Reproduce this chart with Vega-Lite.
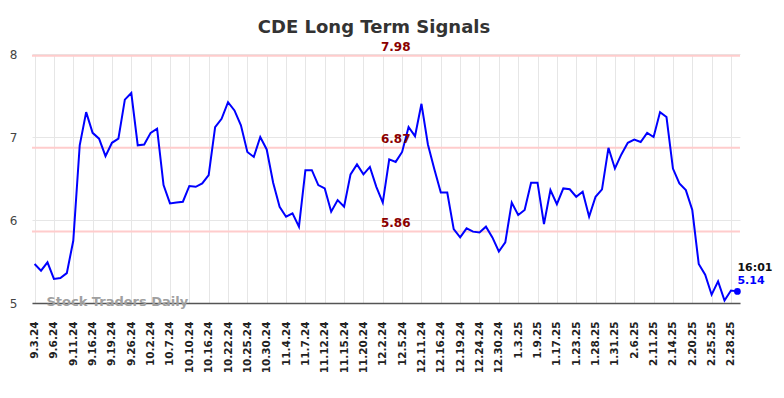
{
  "$schema": "https://vega.github.io/schema/vega-lite/v6.json",
  "width": 708,
  "height": 249,
  "autosize": "none",
  "padding": {"left": 32, "top": 54, "right": 44, "bottom": 95},
  "background": "white",
  "title": {"text": "CDE Long Term Signals", "font": "DejaVu Sans", "fontSize": 18, "fontWeight": "bold", "color": "#333333", "anchor": "middle", "dx": -12, "offset": 4},
  "config": {"view": {"stroke": null}, "font": "DejaVu Sans"},
  "data": {"values": [
    {"d": "9.3.24", "v": 5.47}, {"d": "9.4.24", "v": 5.39}, {"d": "9.5.24", "v": 5.49},
    {"d": "9.6.24", "v": 5.29}, {"d": "9.9.24", "v": 5.30}, {"d": "9.10.24", "v": 5.36},
    {"d": "9.11.24", "v": 5.75}, {"d": "9.12.24", "v": 6.90}, {"d": "9.13.24", "v": 7.30},
    {"d": "9.16.24", "v": 7.05}, {"d": "9.17.24", "v": 6.98}, {"d": "9.18.24", "v": 6.77},
    {"d": "9.19.24", "v": 6.93}, {"d": "9.20.24", "v": 6.98}, {"d": "9.24.24", "v": 7.45},
    {"d": "9.26.24", "v": 7.53}, {"d": "9.27.24", "v": 6.90}, {"d": "9.30.24", "v": 6.91},
    {"d": "10.2.24", "v": 7.05}, {"d": "10.3.24", "v": 7.10}, {"d": "10.4.24", "v": 6.42},
    {"d": "10.7.24", "v": 6.20}, {"d": "10.8.24", "v": 6.21}, {"d": "10.9.24", "v": 6.22},
    {"d": "10.10.24", "v": 6.41}, {"d": "10.11.24", "v": 6.40}, {"d": "10.14.24", "v": 6.44},
    {"d": "10.16.24", "v": 6.54}, {"d": "10.17.24", "v": 7.12}, {"d": "10.18.24", "v": 7.22},
    {"d": "10.22.24", "v": 7.42}, {"d": "10.23.24", "v": 7.32}, {"d": "10.24.24", "v": 7.14},
    {"d": "10.25.24", "v": 6.82}, {"d": "10.28.24", "v": 6.76}, {"d": "10.29.24", "v": 7.00},
    {"d": "10.30.24", "v": 6.85}, {"d": "10.31.24", "v": 6.45}, {"d": "11.1.24", "v": 6.16},
    {"d": "11.4.24", "v": 6.04}, {"d": "11.5.24", "v": 6.08}, {"d": "11.6.24", "v": 5.92},
    {"d": "11.7.24", "v": 6.60}, {"d": "11.8.24", "v": 6.60}, {"d": "11.11.24", "v": 6.42},
    {"d": "11.12.24", "v": 6.38}, {"d": "11.13.24", "v": 6.10}, {"d": "11.14.24", "v": 6.24},
    {"d": "11.15.24", "v": 6.16}, {"d": "11.18.24", "v": 6.55}, {"d": "11.19.24", "v": 6.67},
    {"d": "11.20.24", "v": 6.55}, {"d": "11.22.24", "v": 6.64}, {"d": "11.26.24", "v": 6.40},
    {"d": "12.2.24", "v": 6.21}, {"d": "12.3.24", "v": 6.73}, {"d": "12.4.24", "v": 6.70},
    {"d": "12.5.24", "v": 6.82}, {"d": "12.6.24", "v": 7.12}, {"d": "12.10.24", "v": 7.01},
    {"d": "12.11.24", "v": 7.40}, {"d": "12.12.24", "v": 6.91}, {"d": "12.13.24", "v": 6.61},
    {"d": "12.16.24", "v": 6.33}, {"d": "12.17.24", "v": 6.33}, {"d": "12.18.24", "v": 5.89},
    {"d": "12.19.24", "v": 5.79}, {"d": "12.20.24", "v": 5.90}, {"d": "12.23.24", "v": 5.86},
    {"d": "12.24.24", "v": 5.85}, {"d": "12.26.24", "v": 5.92}, {"d": "12.27.24", "v": 5.79},
    {"d": "12.30.24", "v": 5.62}, {"d": "12.31.24", "v": 5.73}, {"d": "1.2.25", "v": 6.21},
    {"d": "1.3.25", "v": 6.06}, {"d": "1.6.25", "v": 6.12}, {"d": "1.7.25", "v": 6.45},
    {"d": "1.9.25", "v": 6.45}, {"d": "1.10.25", "v": 5.95}, {"d": "1.14.25", "v": 6.36},
    {"d": "1.17.25", "v": 6.19}, {"d": "1.21.25", "v": 6.38}, {"d": "1.22.25", "v": 6.37},
    {"d": "1.23.25", "v": 6.28}, {"d": "1.24.25", "v": 6.34}, {"d": "1.27.25", "v": 6.04},
    {"d": "1.28.25", "v": 6.28}, {"d": "1.29.25", "v": 6.37}, {"d": "1.30.25", "v": 6.87},
    {"d": "1.31.25", "v": 6.62}, {"d": "2.3.25", "v": 6.79}, {"d": "2.4.25", "v": 6.93},
    {"d": "2.6.25", "v": 6.97}, {"d": "2.7.25", "v": 6.94}, {"d": "2.10.25", "v": 7.05},
    {"d": "2.11.25", "v": 7.00}, {"d": "2.12.25", "v": 7.30}, {"d": "2.13.25", "v": 7.24},
    {"d": "2.14.25", "v": 6.62}, {"d": "2.18.25", "v": 6.44}, {"d": "2.19.25", "v": 6.36},
    {"d": "2.20.25", "v": 6.12}, {"d": "2.21.25", "v": 5.47}, {"d": "2.24.25", "v": 5.34},
    {"d": "2.25.25", "v": 5.10}, {"d": "2.26.25", "v": 5.26}, {"d": "2.27.25", "v": 5.03},
    {"d": "2.28.25", "v": 5.15}, {"d": "3.3.25", "v": 5.14}
  ]},
  "layer": [
    {
      "data": {"values": [
        {"level": 7.98, "d": "12.4.24", "lbl": "7.98"},
        {"level": 6.87, "d": "12.4.24", "lbl": "6.87"},
        {"level": 5.86, "d": "12.4.24", "lbl": "5.86"}
      ]},
      "mark": {"type": "rule", "color": "#ffcccc", "strokeWidth": 2},
      "encoding": {
        "y": {"field": "level", "type": "quantitative", "scale": {"domain": [5, 8], "zero": false, "nice": false}}
      }
    },
    {
      "mark": {"type": "line", "color": "#0000ff", "strokeWidth": 2},
      "encoding": {
        "x": {
          "field": "d", "type": "ordinal", "sort": null,
          "scale": {"type": "point", "padding": 0.4},
          "axis": {
            "title": null,
            "values": ["9.3.24", "9.6.24", "9.11.24", "9.16.24", "9.19.24", "9.26.24", "10.2.24", "10.7.24", "10.10.24", "10.16.24", "10.22.24", "10.25.24", "10.30.24", "11.4.24", "11.7.24", "11.12.24", "11.15.24", "11.20.24", "12.2.24", "12.5.24", "12.11.24", "12.16.24", "12.19.24", "12.24.24", "12.30.24", "1.3.25", "1.9.25", "1.17.25", "1.23.25", "1.28.25", "1.31.25", "2.6.25", "2.11.25", "2.14.25", "2.20.25", "2.25.25", "2.28.25"],
            "labelAngle": -90, "labelAlign": "right", "labelBaseline": "middle",
            "labelFont": "DejaVu Sans", "labelFontSize": 10.5, "labelFontWeight": "bold", "labelColor": "#222222",
            "labelPadding": 18, "ticks": false,
            "domain": true, "domainColor": "#555555", "domainWidth": 1.5,
            "grid": true, "gridColor": "#e6e6e6", "gridWidth": 1,
            "labelOverlap": false
          }
        },
        "y": {
          "field": "v", "type": "quantitative",
          "scale": {"domain": [5, 8], "zero": false, "nice": false},
          "axis": {
            "title": null, "values": [5, 6, 7, 8], "format": "d", "ticks": false, "domain": false,
            "labelFont": "DejaVu Sans", "labelFontSize": 12, "labelColor": "#444444", "labelPadding": 15,
            "grid": true, "gridColor": "#e6e6e6", "gridWidth": 1
          }
        }
      }
    },
    {
      "data": {"values": [
        {"level": 7.98, "d": "12.4.24", "lbl": "7.98"},
        {"level": 6.87, "d": "12.4.24", "lbl": "6.87"},
        {"level": 5.86, "d": "12.4.24", "lbl": "5.86"}
      ]},
      "mark": {"type": "text", "font": "DejaVu Sans", "fontSize": 12, "fontWeight": "bold", "color": "#8b0000", "align": "center", "baseline": "alphabetic", "dy": -5},
      "encoding": {
        "x": {"field": "d", "type": "ordinal", "sort": null},
        "y": {"field": "level", "type": "quantitative"},
        "text": {"field": "lbl"}
      }
    },
    {
      "transform": [{"filter": "datum.d === '3.3.25'"}],
      "mark": {"type": "circle", "color": "#0000ff", "size": 45, "opacity": 1},
      "encoding": {
        "x": {"field": "d", "type": "ordinal", "sort": null},
        "y": {"field": "v", "type": "quantitative"}
      }
    },
    {
      "transform": [{"filter": "datum.d === '3.3.25'"}],
      "mark": {"type": "text", "font": "DejaVu Sans", "fontSize": 11, "fontWeight": "bold", "color": "#0000ff", "align": "left", "baseline": "alphabetic", "dy": -7},
      "encoding": {
        "x": {"field": "d", "type": "ordinal", "sort": null},
        "y": {"field": "v", "type": "quantitative"},
        "text": {"field": "v", "type": "quantitative", "format": ".2f"}
      }
    },
    {
      "data": {"values": [{"d": "3.3.25", "v": 5.14, "t": "16:01"}]},
      "mark": {"type": "text", "font": "DejaVu Sans", "fontSize": 11, "fontWeight": "bold", "color": "#111111", "align": "left", "baseline": "alphabetic", "dy": -20},
      "encoding": {
        "x": {"field": "d", "type": "ordinal", "sort": null},
        "y": {"field": "v", "type": "quantitative"},
        "text": {"field": "t"}
      }
    },
    {
      "data": {"values": [{"d": "9.5.24", "v": 5, "t": "Stock Traders Daily"}]},
      "mark": {"type": "text", "font": "DejaVu Sans", "fontSize": 13, "fontWeight": "bold", "color": "#a0a0a0", "align": "left", "baseline": "alphabetic", "dy": 3, "dx": -1},
      "encoding": {
        "x": {"field": "d", "type": "ordinal", "sort": null},
        "y": {"field": "v", "type": "quantitative"},
        "text": {"field": "t"}
      }
    }
  ]
}
